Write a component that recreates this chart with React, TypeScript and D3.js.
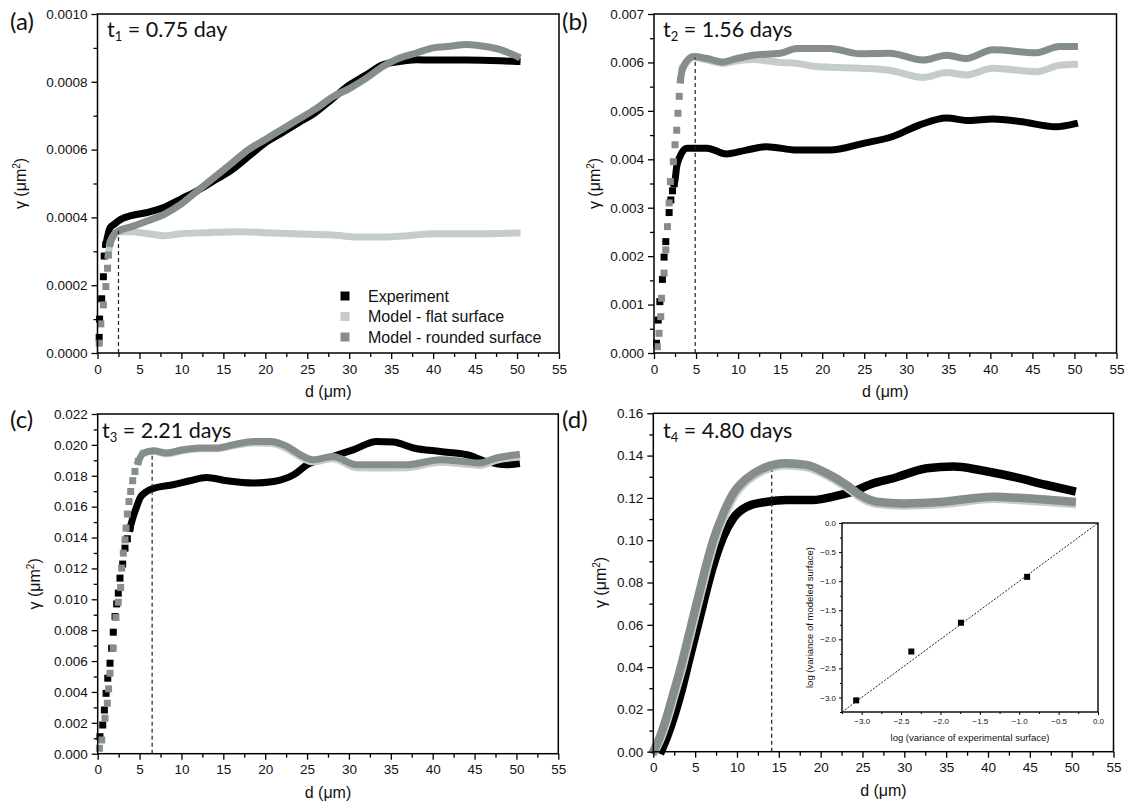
import React, { useEffect, useRef } from 'react';
import * as d3 from 'd3';

// ---------- DATA (d in μm, γ in μm²) ----------
const xTickValues = [0, 5, 10, 15, 20, 25, 30, 35, 40, 45, 50, 55];

// Panel (a) t1 = 0.75 day
const aExperiment: [number, number][] = [
  [0.2, 0.000046], [0.25, 0.0001], [0.5, 0.00016], [0.7, 0.000225], [0.8, 0.000286], [1.0, 0.00032],
  [1.5, 0.00037], [2, 0.00038], [2.5, 0.00039], [4, 0.000405], [6, 0.000415], [8, 0.00043], [10, 0.000455],
  [12, 0.00048], [14, 0.00051], [16, 0.00054], [18, 0.00058], [20, 0.00062], [22, 0.00065], [24, 0.00068],
  [26, 0.00071], [28, 0.00075], [30, 0.00079], [32, 0.00082], [34, 0.00085], [36, 0.00086], [38, 0.000865],
  [40, 0.000864], [44, 0.000864], [48, 0.000862], [50, 0.00086],
];
const aFlat: [number, number][] = [
  [1.3, 0.000289], [1.5, 0.000324], [2, 0.00035], [2.5, 0.000358], [4, 0.000358], [6, 0.000352], [8, 0.000346],
  [10, 0.000352], [13, 0.000355], [17, 0.000358], [20, 0.000355], [25, 0.00035], [28, 0.000348], [31, 0.000342],
  [34, 0.000342], [37, 0.000346], [40, 0.000352], [45, 0.000352], [50, 0.000354],
];
const aRounded: [number, number][] = [
  [0.2, 0.000029], [0.4, 0.000086], [0.7, 0.000142], [1.0, 0.000196], [1.2, 0.00025], [1.3, 0.000289], [1.5, 0.000324],
  [2, 0.00035], [2.5, 0.00036], [4, 0.000372], [6, 0.00039], [8, 0.00041], [10, 0.00044], [12, 0.00048], [14, 0.00052],
  [16, 0.00056], [18, 0.0006], [20, 0.00063], [22, 0.00066], [24, 0.00069], [26, 0.00072], [28, 0.000755],
  [30, 0.00078], [32, 0.00081], [34, 0.000845], [36, 0.00087], [38, 0.000885], [40, 0.0009], [42, 0.000905],
  [44, 0.00091], [46, 0.000905], [48, 0.000895], [50, 0.000875],
];

// Panel (b) t2 = 1.56 days
const bExperiment: [number, number][] = [
  [0.3, 0.0002], [0.5, 0.00068], [0.7, 0.00106], [1.0, 0.00152], [1.2, 0.00198], [1.4, 0.0023], [1.8, 0.0029],
  [2.0, 0.00316], [2.2, 0.00335], [2.4, 0.0035], [2.5, 0.00357], [2.7, 0.00385], [3.1, 0.00406], [3.9, 0.00423],
  [5.1, 0.00423], [6.3, 0.00423], [8.6, 0.00411], [11, 0.00419], [13.4, 0.00426], [17, 0.00419], [20.9, 0.00419],
  [24.9, 0.00433], [28.4, 0.00447], [31.6, 0.00471], [34.8, 0.00485], [37.5, 0.0048], [40.3, 0.00483],
  [43.5, 0.00478], [47.8, 0.00467], [50, 0.00473],
];
const bFlat: [number, number][] = [
  [3.4, 0.00588], [4.7, 0.0061], [6.3, 0.00605], [8.2, 0.00598], [9.8, 0.00603], [11.8, 0.00606], [15, 0.006],
  [17, 0.00598], [19, 0.00592], [21, 0.0059], [24.5, 0.00588], [28, 0.00584], [32, 0.00569], [34.8, 0.00579],
  [37.1, 0.00574], [40.3, 0.00588], [45.5, 0.00581], [48.2, 0.00594], [50, 0.00596],
];
const bRounded: [number, number][] = [
  [0.4, 0.00013], [0.6, 0.000407], [0.8, 0.00075], [0.9, 0.00113], [1.2, 0.00165], [1.4, 0.00213], [1.6, 0.00261],
  [1.8, 0.0031], [1.95, 0.00354], [2.3, 0.00395], [2.5, 0.0043], [2.7, 0.0046], [2.85, 0.00495], [3.0, 0.0053],
  [3.15, 0.00564], [3.4, 0.00588], [4.7, 0.00612], [6.3, 0.00608], [8.2, 0.00601], [9.8, 0.00608], [11.8, 0.00615],
  [15, 0.00619], [17, 0.00629], [20.9, 0.00629], [24.5, 0.00618], [28, 0.00619], [32, 0.00605], [34.8, 0.00615],
  [37.1, 0.00608], [40.3, 0.00626], [45.5, 0.0062], [48.2, 0.00633], [50, 0.00633],
];

// Panel (c) t3 = 2.21 days
const cExperiment: [number, number][] = [
  [0.27, 0.0011], [0.6, 0.00186], [0.8, 0.00283], [1.0, 0.00391], [1.2, 0.00489], [1.47, 0.00586], [1.67, 0.00683],
  [1.86, 0.00787], [2.07, 0.00888], [2.27, 0.0097], [2.46, 0.0104], [2.66, 0.01137], [2.98, 0.01228], [3.26, 0.01331],
  [3.54, 0.01392], [3.86, 0.01461], [4.25, 0.01536], [4.66, 0.01601], [5.05, 0.01655], [5.85, 0.01698],
  [7.04, 0.01724], [9, 0.01742], [11, 0.01768], [13, 0.01789], [15.4, 0.01768], [18.6, 0.01753], [21, 0.01763],
  [23.4, 0.01806], [25, 0.01871], [28.1, 0.01925], [30.5, 0.01968], [33.3, 0.02022], [35.3, 0.02018],
  [37.7, 0.0198], [40.9, 0.01957], [44.1, 0.01936], [46.4, 0.01893], [48.8, 0.01871], [50, 0.01876],
];
const cFlat: [number, number][] = [
  [5.45, 0.01947], [6.64, 0.01958], [8.24, 0.01943], [10.2, 0.01963], [12.2, 0.01975], [14.2, 0.01975],
  [16.2, 0.01995], [18.6, 0.02012], [20.6, 0.0201], [22.6, 0.01975], [24.2, 0.01922], [25.7, 0.0189],
  [28.1, 0.0191], [30.9, 0.01852], [33.7, 0.0185], [36.9, 0.01852], [40.9, 0.01887], [43.7, 0.01876],
  [45.6, 0.01867], [47.6, 0.019], [50, 0.0192],
];
const cRounded: [number, number][] = [
  [0.2, 0.00035], [0.48, 0.00089], [0.87, 0.0023], [1.15, 0.00327], [1.3, 0.0042], [1.47, 0.00521], [1.86, 0.00683],
  [2.18, 0.00882], [2.46, 0.00981], [2.74, 0.01076], [2.86, 0.01202], [3.06, 0.01299], [3.26, 0.01385],
  [3.38, 0.01461], [3.54, 0.01552], [3.74, 0.01633], [3.94, 0.01698], [4.18, 0.01768], [4.45, 0.01828],
  [4.85, 0.01893], [5.45, 0.01947], [6.64, 0.01962], [8.24, 0.01947], [10.2, 0.01969], [12.2, 0.0198],
  [14.2, 0.0198], [16.2, 0.02001], [18.6, 0.02022], [20.6, 0.02022], [22.6, 0.0199], [24.2, 0.01936],
  [25.7, 0.01904], [28.1, 0.01925], [30.9, 0.01871], [33.7, 0.01871], [36.9, 0.01871], [40.9, 0.01904],
  [43.7, 0.01893], [45.6, 0.01882], [47.6, 0.01915], [50, 0.01936],
];

// Panel (d) t4 = 4.80 days
const dExperiment: [number, number][] = [
  [1.0, 0.0008], [1.8, 0.0087], [2.6, 0.0182], [3.4, 0.0292], [4.18, 0.0418], [4.98, 0.0544], [5.78, 0.067],
  [6.57, 0.0796], [7.37, 0.0906], [8.37, 0.1017], [9.56, 0.1104], [11.2, 0.1159], [13.6, 0.1182], [15.9, 0.119],
  [19.1, 0.119], [21.5, 0.1206], [23.9, 0.123], [26.3, 0.1269], [28.7, 0.1293], [32.7, 0.134], [35.9, 0.1348],
  [39, 0.1332], [43, 0.13], [47, 0.1261], [50, 0.1234],
];
const dFlat: [number, number][] = [
  [0.2, 0.0005], [0.95, 0.0068], [1.75, 0.016], [2.55, 0.027], [3.35, 0.038], [4.15, 0.0505], [4.93, 0.063],
  [5.73, 0.0757], [6.53, 0.0882], [7.32, 0.0992], [8.5, 0.1116], [9.7, 0.1212], [11.3, 0.1283], [13.2, 0.133],
  [15.9, 0.1354], [18.3, 0.1346], [20.7, 0.1307], [23.1, 0.1251], [24.7, 0.1204], [26.7, 0.1172], [29.9, 0.1164],
  [34.7, 0.1172], [40.6, 0.1196], [44.6, 0.1188], [50, 0.1172],
];
const dRounded: [number, number][] = [
  [0.08, 0.0008], [0.8, 0.0071], [1.6, 0.0165], [2.4, 0.0276], [3.19, 0.0386], [4, 0.0513], [4.78, 0.0638],
  [5.58, 0.0765], [6.38, 0.0891], [7.17, 0.1001], [8.37, 0.1127], [9.56, 0.1222], [11.2, 0.1293], [13.1, 0.134],
  [15.9, 0.1364], [18.3, 0.1356], [20.7, 0.1317], [23.1, 0.1261], [24.7, 0.1214], [26.7, 0.1182], [29.9, 0.1174],
  [34.7, 0.1182], [40.6, 0.1206], [44.6, 0.1198], [50, 0.1182],
];

// Critical distance markers (dashed lines)
const criticalD = [2.5, 4.9, 6.5, 14.15];
const criticalGamma = [0.00036, 0.0061, 0.0195, 0.133];

// Inset: log variance, experiment vs model
const insetExperimental = [-3.07, -2.37, -1.74, -0.9];
const insetModeled = [-3.05, -2.21, -1.715, -0.926];
const insetTicks = [-3.0, -2.5, -2.0, -1.5, -1.0, -0.5, 0.0];

const legendLabels = ['Experiment', 'Model - flat surface', 'Model - rounded surface'];
const timeLabels = [
  { sub: '1', rest: ' = 0.75 day' },
  { sub: '2', rest: ' = 1.56 days' },
  { sub: '3', rest: ' = 2.21 days' },
  { sub: '4', rest: ' = 4.80 days' },
];
const panelLetters = ['(a)', '(b)', '(c)', '(d)'];

// ---------- STYLE / LAYOUT ----------
const COLORS = { exp: '#000000', flat: '#c6cccb', round: '#858e8c' };
const SANS = '"Liberation Sans", Arial, Helvetica, sans-serif';
const MYRIAD = 'Lato, "Open Sans", sans-serif';

type PanelCfg = {
  box: [number, number, number, number];
  yMax: number;
  yStep: number;
  fmt: string;
  series: { data: [number, number][]; color: string; squaresUntil: number }[];
  width: number;
  titleOffset: number;
  letterPos: [number, number];
  tPos: [number, number];
};

const panels: PanelCfg[] = [
  {
    box: [97.5, 14, 559, 353], yMax: 0.001, yStep: 0.0002, fmt: '.4f', width: 7, titleOffset: -77,
    letterPos: [10, 30], tPos: [107, 37],
    series: [
      { data: aExperiment, color: COLORS.exp, squaresUntil: 1.0 },
      { data: aFlat, color: COLORS.flat, squaresUntil: 1.3 },
      { data: aRounded, color: COLORS.round, squaresUntil: 1.5 },
    ],
  },
  {
    box: [654, 14, 1116.5, 353], yMax: 0.007, yStep: 0.001, fmt: '.3f', width: 7, titleOffset: -59,
    letterPos: [562, 30], tPos: [663, 37],
    series: [
      { data: bExperiment, color: COLORS.exp, squaresUntil: 2.4 },
      { data: bFlat, color: COLORS.flat, squaresUntil: 3.4 },
      { data: bRounded, color: COLORS.round, squaresUntil: 3.15 },
    ],
  },
  {
    box: [97.7, 414, 558.3, 753.7], yMax: 0.022, yStep: 0.002, fmt: '.3f', width: 7, titleOffset: -63,
    letterPos: [10, 428], tPos: [102, 438],
    series: [
      { data: cExperiment, color: COLORS.exp, squaresUntil: 3.86 },
      { data: cFlat, color: COLORS.flat, squaresUntil: 5.45 },
      { data: cRounded, color: COLORS.round, squaresUntil: 4.85 },
    ],
  },
  {
    box: [653.3, 413.3, 1113.5, 751.7], yMax: 0.16, yStep: 0.02, fmt: '.2f', width: 8.5, titleOffset: -52,
    letterPos: [562, 428], tPos: [663, 438],
    series: [
      { data: dExperiment, color: COLORS.exp, squaresUntil: -1 },
      { data: dFlat, color: COLORS.flat, squaresUntil: -1 },
      { data: dRounded, color: COLORS.round, squaresUntil: -1 },
    ],
  },
];

const INSET_BOX: [number, number, number, number] = [842, 523, 1098, 712];

export default function App() {
  const ref = useRef<SVGSVGElement | null>(null);

  useEffect(() => {
    const svg = d3.select(ref.current);
    svg.selectAll('*').remove();

    panels.forEach((p, pi) => {
      const [x0, y0, x1, y1] = p.box;
      const x = d3.scaleLinear().domain([0, 55]).range([x0, x1]);
      const y = d3.scaleLinear().domain([0, p.yMax]).range([y1, y0]);
      const g = svg.append('g');

      // series
      p.series.forEach((s) => {
        const band = s.data.filter((d) => d[0] >= s.squaresUntil);
        const sq = s.data.filter((d) => d[0] <= s.squaresUntil);
        const line = d3
          .line<[number, number]>()
          .x((d) => x(d[0]))
          .y((d) => y(d[1]))
          .curve(d3.curveMonotoneX);
        g.append('path')
          .attr('d', line(band) || '')
          .attr('fill', 'none')
          .attr('stroke', s.color)
          .attr('stroke-width', p.width)
          .attr('stroke-linecap', 'square')
          .attr('stroke-linejoin', 'round');
        g.selectAll(null)
          .data(sq)
          .enter()
          .append('rect')
          .attr('x', (d) => x(d[0]) - p.width / 2)
          .attr('y', (d) => y(d[1]) - p.width / 2)
          .attr('width', p.width)
          .attr('height', p.width)
          .attr('fill', s.color);
      });

      // dashed critical line
      g.append('line')
        .attr('x1', x(criticalD[pi]))
        .attr('x2', x(criticalD[pi]))
        .attr('y1', y(0))
        .attr('y2', y(criticalGamma[pi]))
        .attr('stroke', '#222')
        .attr('stroke-width', 1.2)
        .attr('stroke-dasharray', '4,3');

      // frame
      g.append('rect')
        .attr('x', x0)
        .attr('y', y0)
        .attr('width', x1 - x0)
        .attr('height', y1 - y0)
        .attr('fill', 'none')
        .attr('stroke', '#000')
        .attr('stroke-width', 1.5);

      // x axis
      const xMajor = d3.axisBottom(x).tickValues(xTickValues).tickSize(6).tickPadding(5).tickFormat(d3.format('d'));
      const xMinor = d3
        .axisBottom(x)
        .tickValues(xTickValues.slice(0, -1).map((v) => v + 2.5))
        .tickSize(4)
        .tickFormat(() => '');
      const gx = g.append('g').attr('transform', `translate(0,${y1})`).call(xMajor);
      const gxm = g.append('g').attr('transform', `translate(0,${y1})`).call(xMinor);
      [gx, gxm].forEach((a) => {
        a.select('.domain').remove();
        a.selectAll('line').attr('stroke', '#000').attr('stroke-width', 1.3);
        a.selectAll('text').attr('font-family', SANS).attr('font-size', 13.5).attr('fill', '#111');
      });

      // y axis
      const yTicks = d3.range(0, p.yMax + p.yStep / 2, p.yStep);
      const yMinorTicks = d3.range(p.yStep / 2, p.yMax, p.yStep);
      const yMajor = d3.axisLeft(y).tickValues(yTicks).tickSize(6).tickPadding(4).tickFormat(d3.format(p.fmt));
      const yMinor = d3.axisLeft(y).tickValues(yMinorTicks).tickSize(4).tickFormat(() => '');
      const gy = g.append('g').attr('transform', `translate(${x0},0)`).call(yMajor);
      const gym = g.append('g').attr('transform', `translate(${x0},0)`).call(yMinor);
      [gy, gym].forEach((a) => {
        a.select('.domain').remove();
        a.selectAll('line').attr('stroke', '#000').attr('stroke-width', 1.3);
        a.selectAll('text').attr('font-family', SANS).attr('font-size', 13.5).attr('fill', '#111');
      });

      // axis titles
      g.append('text')
        .attr('x', (x0 + x1) / 2)
        .attr('y', y1 + 44)
        .attr('text-anchor', 'middle')
        .attr('font-family', SANS)
        .attr('font-size', 16)
        .attr('fill', '#111')
        .text('d (μm)');
      const yt = g
        .append('text')
        .attr('transform', `translate(${x0 + p.titleOffset + 5},${(y0 + y1) / 2}) rotate(-90)`)
        .attr('text-anchor', 'middle')
        .attr('font-family', SANS)
        .attr('font-size', 16)
        .attr('fill', '#111');
      yt.append('tspan').text('γ (μm');
      yt.append('tspan').attr('font-size', 10).attr('dy', -6).text('2');
      yt.append('tspan').attr('dy', 6).text(')');

      // panel letter
      g.append('text')
        .attr('x', p.letterPos[0])
        .attr('y', p.letterPos[1])
        .attr('font-family', MYRIAD)
        .attr('font-size', 24)
        .attr('fill', '#111')
        .text(panelLetters[pi]);

      // time annotation
      const tt = g
        .append('text')
        .attr('x', p.tPos[0])
        .attr('y', p.tPos[1])
        .attr('font-family', MYRIAD)
        .attr('font-size', 21.5)
        .attr('fill', '#111');
      tt.append('tspan').text('t');
      tt.append('tspan').attr('font-size', 13).attr('dy', 4).text(timeLabels[pi].sub);
      tt.append('tspan').attr('dy', -4).text(timeLabels[pi].rest);

      // legend (panel a)
      if (pi === 0) {
        const colors = [COLORS.exp, COLORS.flat, COLORS.round];
        legendLabels.forEach((lab, li) => {
          const cy = 296 + li * 20.5;
          g.append('rect')
            .attr('x', 340.5)
            .attr('y', cy - 4.5)
            .attr('width', 9)
            .attr('height', 9)
            .attr('fill', colors[li]);
          g.append('text')
            .attr('x', 368)
            .attr('y', cy + 5.5)
            .attr('font-family', SANS)
            .attr('font-size', 16)
            .attr('fill', '#111')
            .text(lab);
        });
      }
    });

    // ---------- inset ----------
    const [ix0, iy0, ix1, iy1] = INSET_BOX;
    const ix = d3.scaleLinear().domain([-3.25, 0]).range([ix0, ix1]);
    const iy = d3.scaleLinear().domain([-3.25, 0]).range([iy1, iy0]);
    const gi = svg.append('g');
    gi.append('rect')
      .attr('x', ix0)
      .attr('y', iy0)
      .attr('width', ix1 - ix0)
      .attr('height', iy1 - iy0)
      .attr('fill', '#fff')
      .attr('stroke', '#000')
      .attr('stroke-width', 1.4);
    gi.append('line')
      .attr('x1', ix(-3.25))
      .attr('y1', iy(-3.25))
      .attr('x2', ix(0))
      .attr('y2', iy(0))
      .attr('stroke', '#222')
      .attr('stroke-width', 1)
      .attr('stroke-dasharray', '2,1.5');
    gi.selectAll(null)
      .data(insetExperimental.map((v, i) => [v, insetModeled[i]]))
      .enter()
      .append('rect')
      .attr('x', (d) => ix(d[0]) - 3)
      .attr('y', (d) => iy(d[1]) - 3)
      .attr('width', 6)
      .attr('height', 6)
      .attr('fill', '#000');
    const minorIn = d3.range(-3.25, 0, 0.5);
    const ixa = gi.append('g').attr('transform', `translate(0,${iy1})`)
      .call(d3.axisBottom(ix).tickValues(insetTicks).tickSize(3).tickPadding(3).tickFormat(d3.format('.1f')));
    const ixm = gi.append('g').attr('transform', `translate(0,${iy1})`)
      .call(d3.axisBottom(ix).tickValues(minorIn).tickSize(2).tickFormat(() => ''));
    const iya = gi.append('g').attr('transform', `translate(${ix0},0)`)
      .call(d3.axisLeft(iy).tickValues(insetTicks).tickSize(3).tickPadding(3).tickFormat(d3.format('.1f')));
    const iym = gi.append('g').attr('transform', `translate(${ix0},0)`)
      .call(d3.axisLeft(iy).tickValues(minorIn).tickSize(2).tickFormat(() => ''));
    [ixa, ixm, iya, iym].forEach((a) => {
      a.select('.domain').remove();
      a.selectAll('line').attr('stroke', '#000').attr('stroke-width', 1);
      a.selectAll('text').attr('font-family', SANS).attr('font-size', 8).attr('fill', '#111');
    });
    gi.append('text')
      .attr('x', (ix0 + ix1) / 2)
      .attr('y', iy1 + 29)
      .attr('text-anchor', 'middle')
      .attr('font-family', SANS)
      .attr('font-size', 9.5)
      .attr('fill', '#111')
      .text('log (variance of experimental surface)');
    gi.append('text')
      .attr('transform', `translate(${ix0 - 29},${(iy0 + iy1) / 2}) rotate(-90)`)
      .attr('text-anchor', 'middle')
      .attr('font-family', SANS)
      .attr('font-size', 9.5)
      .attr('fill', '#111')
      .text('log (variance of modeled surface)');
  }, []);

  return (
    <svg
      ref={ref}
      width={1127}
      height={810}
      style={{ position: 'absolute', left: 0, top: 0, background: '#fff', display: 'block' }}
    />
  );
}
